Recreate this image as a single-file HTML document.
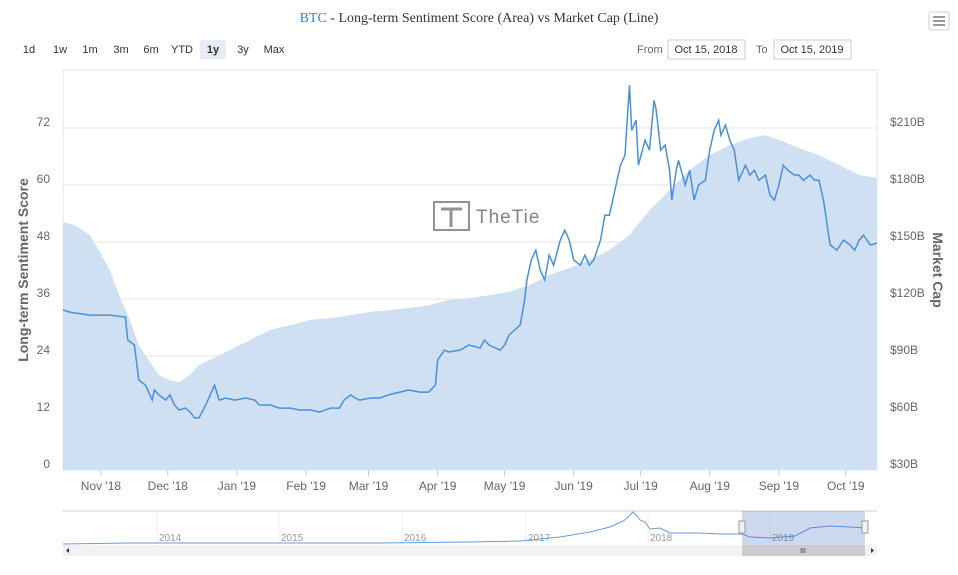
<!DOCTYPE html>
<html><head><meta charset="utf-8">
<style>
body{margin:0;background:#fff;font-family:"Liberation Sans",sans-serif;}
</style></head>
<body>
<svg id="c" width="958" height="570" viewBox="0 0 958 570" xmlns="http://www.w3.org/2000/svg" font-family="Liberation Sans, sans-serif">
<rect width="958" height="570" fill="#fff"/>
<text x="479" y="22" text-anchor="middle" style="font-family:'Liberation Serif',serif" font-size="14" fill="#333"><tspan fill="#3b7dd8">BTC</tspan> - Long-term Sentiment Score (Area) vs Market Cap (Line)</text>
<g><rect x="929" y="12" width="20" height="18" rx="2" fill="#fff" stroke="#ccc"/><path d="M933 17h12M933 21h12M933 25h12" stroke="#777" stroke-width="1.5"/></g>
<g id="rng" font-size="11" fill="#333"></g>
<text x="637" y="53" font-size="11" fill="#666">From</text>
<g><rect x="668" y="40" width="77" height="19" fill="#fff" stroke="#ccc"/><text x="706" y="53" text-anchor="middle" font-size="11" fill="#333">Oct 15, 2018</text></g>
<text x="756" y="53" font-size="11" fill="#666">To</text>
<g><rect x="774" y="40" width="77" height="19" fill="#fff" stroke="#ccc"/><text x="812" y="53" text-anchor="middle" font-size="11" fill="#333">Oct 15, 2019</text></g>
<rect x="63" y="70" width="814" height="400" fill="#fff" stroke="#e6e6e6"/>
<g id="grid"></g>
<path id="area" fill="#cfe0f3"/>
<g opacity="0.8"><rect x="434" y="202" width="35" height="28" fill="#fff" stroke="#777" stroke-width="2"/><path d="M441 209h21M451 209v18" stroke="#777" stroke-width="3"/><text x="476" y="223" font-size="19" fill="#666" letter-spacing="1">TheTie</text></g>
<path id="line" fill="none" stroke="#4a90d9" stroke-width="1.5"/>
<g id="axes"></g>
<text transform="translate(28,270) rotate(-90)" text-anchor="middle" font-size="14" font-weight="bold" fill="#666">Long-term Sentiment Score</text>
<text transform="translate(933,270) rotate(90)" text-anchor="middle" font-size="14" font-weight="bold" fill="#666">Market Cap</text>
<g>
<rect x="63" y="511" width="814" height="34" fill="#fff"/>
<line x1="63" y1="511" x2="877" y2="511" stroke="#ccd" />
<g id="navyears" font-size="10" fill="#999"></g>
<path d="M63 544L130 543L200 543L280 543L380 543L470 542L520 541L560 537L590 532L610 527L625 520L633 512L637 516L640 520L645 522L650 529L660 528L670 533L700 533L720 534L742 534L750 537L770 538L795 536L810 528L830 526L850 527L865 528" fill="none" stroke="#6a9bd8" stroke-width="1"/>
<rect x="742" y="511" width="123" height="34" fill="#3366bb" fill-opacity="0.25"/>
<rect x="739" y="521" width="6" height="12" fill="#f2f2f2" stroke="#999"/>
<rect x="862" y="521" width="6" height="12" fill="#f2f2f2" stroke="#999"/>
<rect x="63" y="545" width="814" height="11" fill="#f2f2f2"/>
<rect x="742" y="545" width="123" height="11" fill="#ccc"/>
<text x="803" y="553" font-size="7" fill="#333" text-anchor="middle">III</text>
<path d="M69 548v5l-3-2.5zM871 548v5l3-2.5z" fill="#333"/>
</g>
</svg>
<script>
const lineDays=[0,3,12,21,28,29,32,34,37,40,41,43,46,48,50,52,55,57,59,61,64,66,68,70,73,77,82,86,88,93,97,102,106,111,115,120,124,126,129,131,133,138,142,146,151,155,160,164,167,168,171,173,178,182,187,189,191,196,198,200,205,207,208,210,212,214,216,218,220,223,225,227,229,232,234,236,238,241,243,245,247,250,252,253,254,255,257,258,261,263,265,266,268,270,272,273,275,276,279,281,283,285,288,290,292,294,295,297,299,301,303,306,308,310,312,315,317,319,321,323,325,328,330,332,335,337,339,341,343,344,347,350,353,355,357,359,362,365];
const marketCap=[114.2,113.1,111.5,111.5,110.5,98.4,95.8,77.3,74.7,66.8,72.1,69.5,66.8,69.5,64.2,61.6,62.6,60.5,57.4,57.4,64.2,69.5,74.7,66.8,67.9,66.8,67.9,66.8,64.2,64.2,62.6,62.6,61.6,61.6,60.5,62.6,62.6,66.8,69.5,67.9,66.8,67.9,67.9,69.5,71.0,72.1,71.0,71.0,74.7,87.9,93.1,92.1,93.1,95.8,94.2,98.4,95.8,93.1,95.8,101,106.3,119.4,130,140.5,145.7,135.2,130,143.1,137.8,151,156.2,151,140.5,137.8,143.1,137.8,140.5,151,164.1,164.1,174.7,190.4,195.7,214.1,232.5,208.8,214.1,190.4,203.6,198.3,224.6,219.4,198.3,201,187.8,172,187.8,193,180,187.8,172,180,182.5,198.3,208.8,214.1,206.2,211.5,203.6,198.3,182.5,190.4,185.2,187.8,182.5,185.2,174.7,172,180,190.4,187.8,185.2,185.2,182.5,185.2,182.5,182.5,172,156.2,148.4,145.7,151,148.4,145.7,151,153.6,148.4,149.4];
const sentDays=[0,5,12,16,21,26,30,34,39,43,48,52,57,61,66,75,84,93,102,111,120,129,138,147,155,164,173,182,191,200,209,218,227,236,245,254,263,272,281,290,299,308,315,321,330,339,348,357,365];
const sentiment=[52.2,51.6,49.5,46.3,42.1,35.8,31.6,26.3,22.7,20,18.9,18.5,20,22.1,23.2,25.3,27.4,29.5,30.5,31.6,32,32.6,33.3,33.7,34.1,34.7,35.8,36.2,36.8,37.5,38.9,41.1,42.5,44.2,46.3,49.5,54.7,58.9,63.2,66.3,68.4,69.9,70.5,69.5,67.8,66.3,64.2,62.1,61.5];
const leftTicks=[0,12,24,36,48,60,72];
const rightTicks=[30,60,90,120,150,180,210];
const monthLabels=["Nov '18","Dec '18","Jan '19","Feb '19","Mar '19","Apr '19","May '19","Jun '19","Jul '19","Aug '19","Sep '19","Oct '19"];
const monthDays=[17,47,78,109,137,168,198,229,259,290,321,351];
const ranges=["1d","1w","1m","3m","6m","YTD","1y","3y","Max"];
const navYears=["2014","2015","2016","2017","2018","2019"];

const NS="http://www.w3.org/2000/svg";
const X0=63,X1=877,Y0=470,Y1=128;
const xS=d=>X0+d/365*(X1-X0);
const yL=v=>Y0-v/72*(Y0-Y1);
const yR=v=>Y0-(v-30)/180*(Y0-Y1);
function mk(tag,attrs,parent,txt){const e=document.createElementNS(NS,tag);for(const k in attrs)e.setAttribute(k,attrs[k]);if(txt!=null)e.textContent=txt;parent.appendChild(e);return e;}
const grid=document.getElementById('grid'),axes=document.getElementById('axes');
leftTicks.forEach((t,i)=>{
  const y=yL(t);
  if(t>0){const g=mk('line',{x1:X0,x2:X1,y1:y,y2:y,stroke:'#e6e6e6'},grid);
  
  }
  const a=mk('text',{x:50,y:y-2,'text-anchor':'end','font-size':12,fill:'#666'},axes,t);
  
  
  const b=mk('text',{x:890,y:yR(rightTicks[i])-2,'font-size':12,fill:'#666'},axes,'$'+rightTicks[i]+'B');
  
  
});
monthLabels.forEach((m,i)=>{
  const x=xS(monthDays[i]);
  const t=mk('text',{x:x,y:490,'text-anchor':'middle','font-size':12,fill:'#666'},axes,m);
  
  
  mk('line',{x1:x,x2:x,y1:470,y2:476,stroke:'#ccc'},axes);
});
let a='M'+X0+' '+Y0;
sentDays.forEach((d,i)=>{a+=' L'+xS(d).toFixed(1)+' '+yL(sentiment[i]).toFixed(1);});
a+=' L'+X1+' '+Y0+'Z';
document.getElementById('area').setAttribute('d',a);
document.getElementById('line').setAttribute('d',lineDays.map((d,i)=>(i?'L':'M')+xS(d).toFixed(1)+' '+yR(marketCap[i]).toFixed(1)).join(' '));
const rng=document.getElementById('rng');
const rx=[29,60,90,121,151,182,213,243,274];
ranges.forEach((r,i)=>{
  const g=mk('g',{},rng);
  
  
  if(r==='1y')mk('rect',{x:rx[i]-13,y:40,width:26,height:19,fill:'#e6ebf5',rx:2},g);
  mk('text',{x:rx[i],y:53,'text-anchor':'middle','font-weight':r==='1y'?'bold':'normal'},g,r);
});
const ny=document.getElementById('navyears');
const nyx=[157,279,402,526,648,770];
navYears.forEach((y,i)=>{
  mk('line',{x1:nyx[i],x2:nyx[i],y1:511,y2:545,stroke:'#eee'},ny);
  const t=mk('text',{x:nyx[i]+2,y:541},ny,y);
  
  
});
</script>
</body></html>
